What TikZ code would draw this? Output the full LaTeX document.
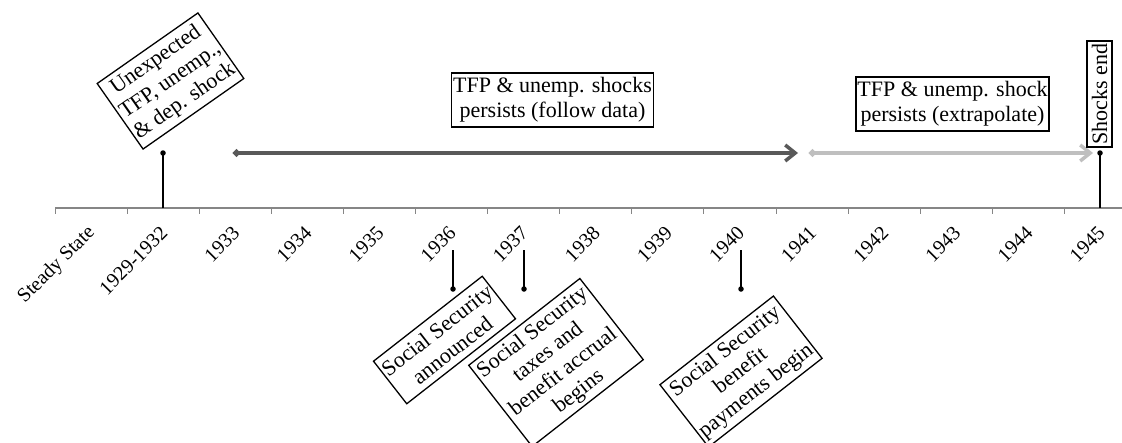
\documentclass[tikz,border=0pt]{standalone}
\usepackage{fontspec}
\setmainfont{Liberation Serif}
\usetikzlibrary{arrows.meta}
\definecolor{axisgray}{HTML}{868686}
\definecolor{darkarrow}{HTML}{595959}
\definecolor{lightarrow}{HTML}{BFBFBF}
\begin{document}
\begin{tikzpicture}[x=1pt,y=-1pt,
  box/.style={draw=black, line width=1.3pt, fill=white, align=center, inner sep=1.5pt,
    font=\fontsize{22}{25}\selectfont},
  yearlabel/.style={anchor=east, rotate=45, inner sep=0pt, font=\fontsize{20}{24}\selectfont},
  stem/.style={line width=1.5pt, black},
  dot/.style={circle, fill=black, inner sep=0pt, minimum size=5.5pt},
  period/.style={line width=3.5pt, {Circle[length=7pt]}-{Straight Barb[length=10pt, width=16pt]}},
  axisline/.style={line width=1.5pt, axisgray},
  tick/.style={line width=1pt, axisgray}
]
\useasboundingbox (0,0) rectangle (1122,442);

% axis
\coordinate (axL) at (55,208);
\coordinate (axR) at (1122,208);
\draw[axisline] (axL) -- (axR);
\foreach \k in {0,...,14}{
  \coordinate (t\k) at ({55+72.1*\k},208);
  \coordinate (tb\k) at ({55+72.1*\k},214);
  \draw[tick] (t\k) -- (tb\k);
}

% category labels
\foreach \lab [count=\k from 0] in {Steady State,1929-1932,1933,1934,1935,1936,1937,1938,1939,1940,1941,1942,1943,1944,1945}{
  \node[yearlabel] (lab\k) at ({55+72.1*(\k+0.5)+1},230) {\lab};
}

% top stems
\coordinate (a1) at (163,208);
\node[dot] (p1) at (163,153) {};
\draw[stem] (a1) -- (p1.center);
\coordinate (a14) at (1100,208);
\node[dot] (p14) at (1100,153) {};
\draw[stem] (a14) -- (p14.center);

% bottom stems
\coordinate (b5) at (453,250);
\node[dot] (q5) at (453,289) {};
\draw[stem] (b5) -- (q5.center);
\coordinate (b6) at (524,250);
\node[dot] (q6) at (524,289) {};
\draw[stem] (b6) -- (q6.center);
\coordinate (b9) at (741,250);
\node[dot] (q9) at (741,289) {};
\draw[stem] (b9) -- (q9.center);

% period arrows
\coordinate (s1) at (233,153);
\coordinate (e1) at (798,153);
\draw[period, darkarrow] (s1) -- (e1);
\coordinate (s2) at (809,153);
\coordinate (e2) at (1093,153);
\draw[period, lightarrow] (s2) -- (e2);

% boxes
\node[box, rotate=35, minimum width=123pt, minimum height=80pt] (shock) at (170.5,81)
  {Unexpected\\TFP, unemp.,\\\& dep. shock};
\node[box, minimum width=201pt, minimum height=54pt] (follow) at (552.5,100)
  {TFP \& unemp. shocks\\persists (follow data)};
\node[box, minimum width=193pt, minimum height=54pt] (extra) at (952.5,104)
  {TFP \& unemp. shock\\persists (extrapolate)};
\node[box, rotate=90, minimum width=106pt, minimum height=25pt] (end) at (1099.5,94)
  {Shocks end};
\node[box, rotate=38, minimum width=138pt, minimum height=54pt] (announced) at (444.5,340)
  {Social Security\\announced};
\node[box, rotate=38, minimum width=141pt, minimum height=103pt] (taxes) at (556,362.5)
  {Social Security\\taxes and\\benefit accrual\\begins};
\node[box, rotate=38, minimum width=144pt, minimum height=79pt] (payments) at (741,371.5)
  {Social Security\\benefit\\payments begin};
\end{tikzpicture}
\end{document}
